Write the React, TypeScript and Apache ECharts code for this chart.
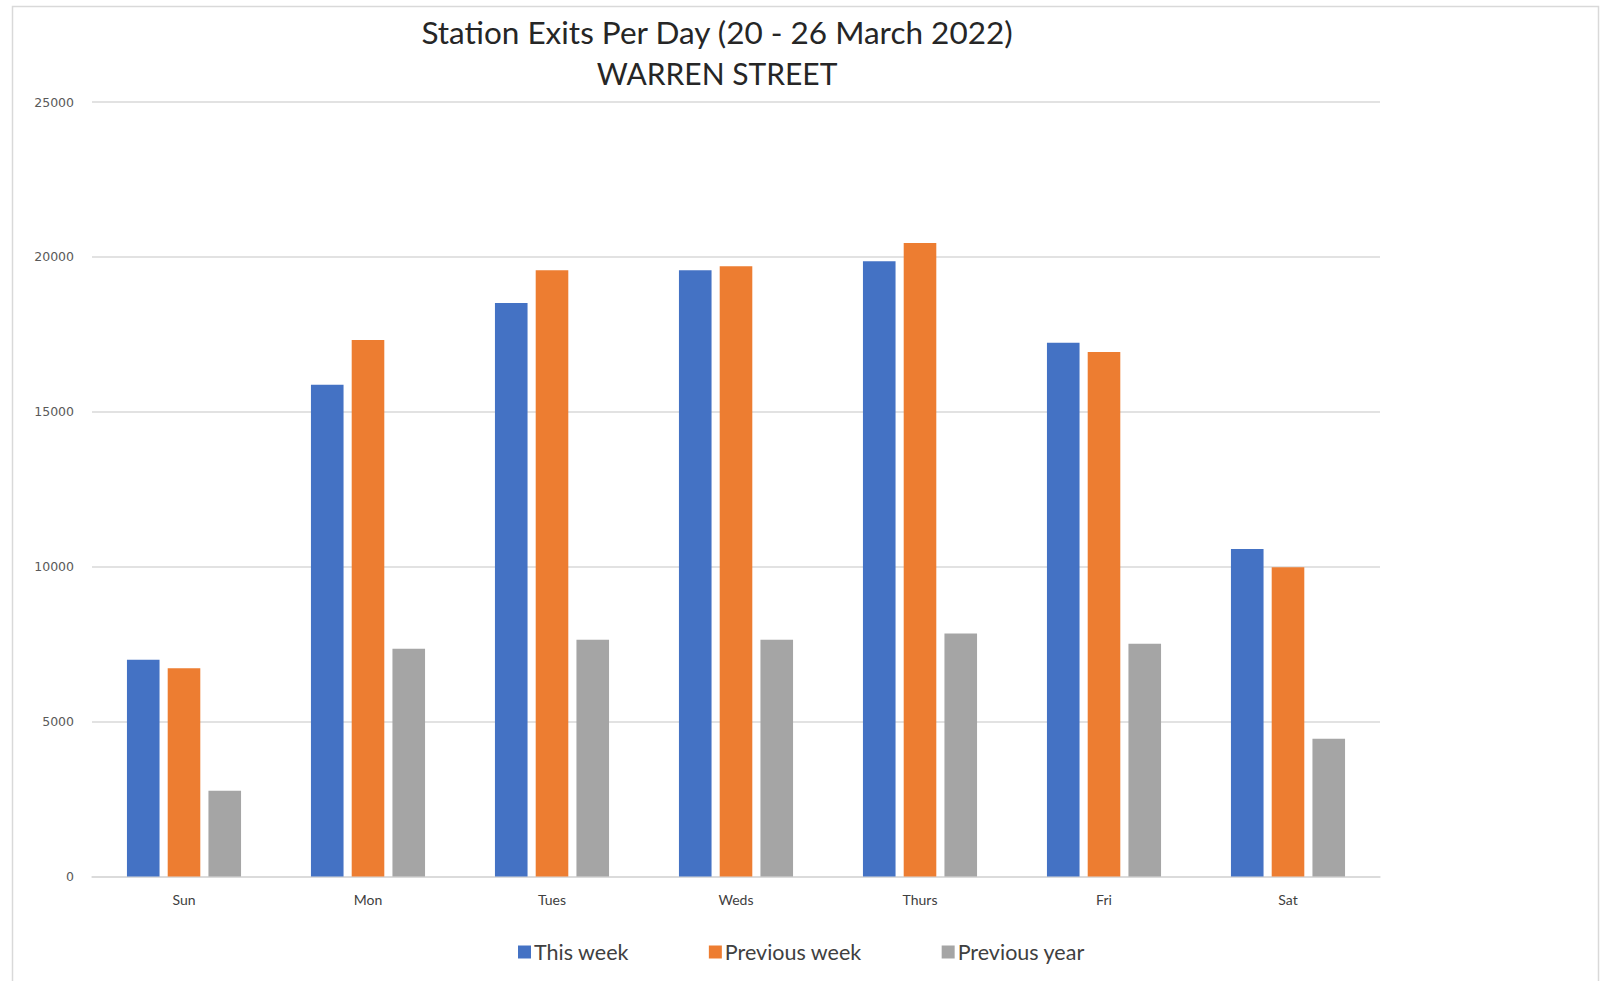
import React, { useEffect, useRef } from "react";
import * as echarts from "echarts";

const days = ["Sun", "Mon", "Tues", "Weds", "Thurs", "Fri", "Sat"];
const thisWeek = [7000, 15870, 18510, 19570, 19860, 17230, 10570];
const previousWeek = [6720, 17320, 19570, 19700, 20450, 16930, 9980];
const previousYear = [2770, 7350, 7640, 7640, 7840, 7510, 4450];
const yTicks = { min: 0, max: 25000, interval: 5000 };

export default function App() {
  const ref = useRef<HTMLDivElement>(null);
  useEffect(() => {
    if (!ref.current) return;
    const chart = echarts.init(ref.current, undefined, { renderer: "svg" });
    const labelFont = "Lato, 'Liberation Sans', sans-serif";
    const barWidth = 32.6;
    chart.setOption({
      animation: false,
      backgroundColor: "#ffffff",
      title: [
        {
          text: "Station Exits Per Day (20 - 26 March 2022)",
          left: 712,
          top: 11,
          textAlign: "center",
          textStyle: { fontFamily: labelFont, fontSize: 31.5, fontWeight: "normal", color: "#262626" },
        },
        {
          text: "WARREN STREET",
          left: 712,
          top: 53,
          textAlign: "center",
          textStyle: { fontFamily: labelFont, fontSize: 30, fontWeight: "normal", color: "#262626" },
        },
      ],
      graphic: [
        {
          type: "rect",
          shape: { x: 12.5, y: 6.5, width: 1586, height: 1000 },
          style: { fill: "none", stroke: "#d9d9d9", lineWidth: 1.5 },
          silent: true,
        },
      ],
      legend: {
        left: 513,
        top: 936,
        itemWidth: 13,
        itemHeight: 13,
        itemGap: 80,
        icon: "rect",
        textStyle: { fontFamily: labelFont, fontSize: 21.5, color: "#404040", padding: [0, 0, 0, -2] },
        data: ["This week", "Previous week", "Previous year"],
      },
      grid: { left: 92, right: 220, top: 102, bottom: 104.5, containLabel: false },
      xAxis: {
        type: "category",
        data: days,
        axisLine: { lineStyle: { color: "#d9d9d9", width: 1.5 } },
        axisTick: { show: false },
        axisLabel: { fontFamily: labelFont, fontSize: 14, color: "#404040", margin: 16 },
      },
      yAxis: {
        type: "value",
        min: yTicks.min,
        max: yTicks.max,
        interval: yTicks.interval,
        axisLine: { show: false },
        axisTick: { show: false },
        splitLine: { lineStyle: { color: "#d9d9d9", width: 1.5 } },
        axisLabel: {
          fontFamily: "'DejaVu Sans', sans-serif",
          fontSize: 12.5,
          color: "#595959",
          margin: 18,
          formatter: (v: number) => String(v),
        },
      },
      series: [
        { name: "This week", type: "bar", data: thisWeek, barWidth, barGap: "25%", itemStyle: { color: "#4472C4" } },
        { name: "Previous week", type: "bar", data: previousWeek, barWidth, barGap: "25%", itemStyle: { color: "#ED7D31" } },
        { name: "Previous year", type: "bar", data: previousYear, barWidth, barGap: "25%", itemStyle: { color: "#A5A5A5" } },
      ],
    });
    return () => chart.dispose();
  }, []);
  return (
    <div
      ref={ref}
      style={{ position: "fixed", left: 0, top: 0, width: 1600, height: 981 }}
    />
  );
}
